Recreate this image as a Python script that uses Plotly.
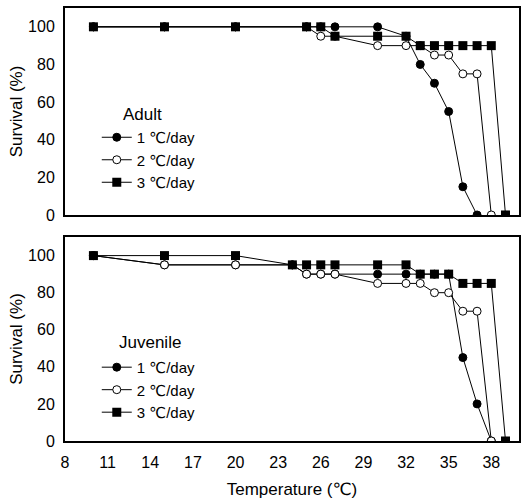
import plotly.graph_objects as go
from plotly.subplots import make_subplots

# ---- data ----
adult_1_x = [10, 15, 20, 25, 26, 27, 30, 32, 33, 34, 35, 36, 37]
adult_1_y = [100, 100, 100, 100, 100, 100, 100, 95, 80, 70, 55, 15, 0]
adult_2_x = [10, 15, 20, 25, 26, 27, 30, 32, 33, 34, 35, 36, 37, 38]
adult_2_y = [100, 100, 100, 100, 95, 95, 90, 90, 90, 85, 85, 75, 75, 0]
adult_3_x = [10, 15, 20, 25, 26, 27, 30, 32, 33, 34, 35, 36, 37, 38, 39]
adult_3_y = [100, 100, 100, 100, 100, 95, 95, 95, 90, 90, 90, 90, 90, 90, 0]

juv_1_x = [10, 15, 20, 24, 25, 26, 27, 30, 32, 33, 34, 35, 36, 37, 38]
juv_1_y = [100, 95, 95, 95, 90, 90, 90, 90, 90, 90, 90, 90, 45, 20, 0]
juv_2_x = [10, 15, 20, 24, 25, 26, 27, 30, 32, 33, 34, 35, 36, 37, 38]
juv_2_y = [100, 95, 95, 95, 90, 90, 90, 85, 85, 85, 80, 80, 70, 70, 0]
juv_3_x = [10, 15, 20, 24, 25, 26, 27, 30, 32, 33, 34, 35, 36, 37, 38, 39]
juv_3_y = [100, 100, 100, 95, 95, 95, 95, 95, 95, 90, 90, 90, 85, 85, 85, 0]

series_names = ["1 ℃/day", "2 ℃/day", "3 ℃/day"]
x_ticks = [8, 11, 14, 17, 20, 23, 26, 29, 32, 35, 38]
y_ticks = [0, 20, 40, 60, 80, 100]

FONT = "Liberation Sans, Arial, DejaVu Sans, sans-serif"

styles = [
    dict(symbol="circle", size=8, color="black", line=dict(color="black", width=1)),
    dict(symbol="circle", size=8, color="white", line=dict(color="black", width=1)),
    dict(symbol="square", size=9, color="black", line=dict(color="black", width=0)),
]

fig = make_subplots(rows=2, cols=1, vertical_spacing=0.0)

adult = [(adult_1_x, adult_1_y), (adult_2_x, adult_2_y), (adult_3_x, adult_3_y)]
juv = [(juv_1_x, juv_1_y), (juv_2_x, juv_2_y), (juv_3_x, juv_3_y)]

for i, (xs, ys) in enumerate(adult):
    fig.add_trace(go.Scatter(x=xs, y=ys, mode="lines+markers", name=series_names[i],
                             line=dict(color="black", width=1), marker=styles[i],
                             legend="legend"), row=1, col=1)
for i, (xs, ys) in enumerate(juv):
    fig.add_trace(go.Scatter(x=xs, y=ys, mode="lines+markers", name=series_names[i],
                             line=dict(color="black", width=1), marker=styles[i],
                             legend="legend2"), row=2, col=1)

axis_common = dict(showline=True, mirror=True, linecolor="black", linewidth=2,
                   showgrid=False, zeroline=False, ticks="",
                   tickfont=dict(size=16, family=FONT, color="black"))

fig.update_xaxes(range=[8, 39.95], tickvals=x_ticks, **axis_common)
fig.update_yaxes(range=[0, 110], tickvals=y_ticks, ticklabelstandoff=5, **axis_common,
                 title=dict(text="Survival (%)", font=dict(size=17, family=FONT, color="black"),
                            standoff=1))
fig.update_xaxes(showticklabels=False, row=1, col=1)
fig.update_xaxes(ticklabelstandoff=6, row=2, col=1,
                 title=dict(text="Temperature (℃)", font=dict(size=17, family=FONT, color="black"),
                            standoff=14))

fig.update_layout(
    yaxis=dict(domain=[0.522, 1.0]),
    yaxis2=dict(domain=[0.0, 0.471]),
    width=523, height=499,
    margin=dict(l=65, r=2, t=8, b=58),
    paper_bgcolor="white", plot_bgcolor="white",
    font=dict(family=FONT, size=15, color="black"),
    legend=dict(x=0.07, y=0.739, xanchor="left", yanchor="top", bgcolor="rgba(0,0,0,0)",
                font=dict(size=15, family=FONT, color="black"), itemwidth=30),
    legend2=dict(x=0.07, y=0.208, xanchor="left", yanchor="top", bgcolor="rgba(0,0,0,0)",
                 font=dict(size=15, family=FONT, color="black"), itemwidth=30),
    annotations=[
        dict(text="Adult", x=(143 - 65) / 456, y=(441 - 115) / 433, xref="paper", yref="paper",
             xanchor="center", yanchor="middle",
             showarrow=False, font=dict(size=17, family=FONT, color="black")),
        dict(text="Juvenile", x=(150 - 65) / 456, y=(441 - 342) / 433, xref="paper", yref="paper",
             xanchor="center", yanchor="middle",
             showarrow=False, font=dict(size=17, family=FONT, color="black")),
    ],
)

fig.write_html("out.html")
